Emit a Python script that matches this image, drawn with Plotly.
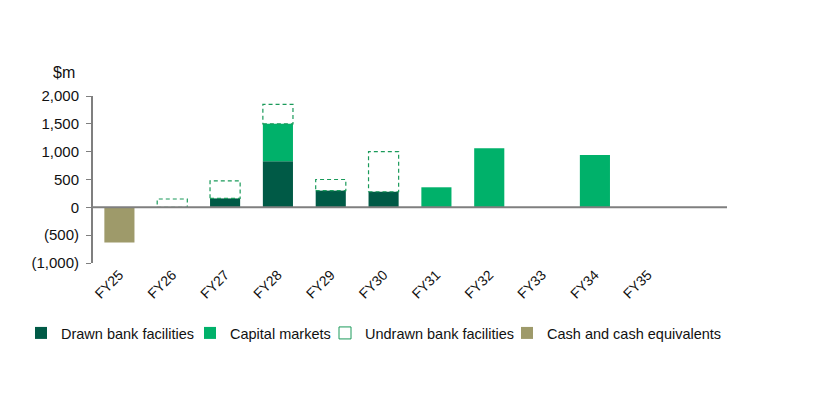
import plotly.graph_objects as go

# Debt maturity profile, $m
years = ["FY25", "FY26", "FY27", "FY28", "FY29", "FY30",
         "FY31", "FY32", "FY33", "FY34", "FY35"]
drawn = [0, 0, 160, 830, 300, 280, 0, 0, 0, 0, 0]
capital = [0, 0, 0, 670, 0, 0, 360, 1060, 0, 940, 0]
undrawn = [0, 150, 315, 350, 200, 720, 0, 0, 0, 0, 0]
cash = [-630, 0, 0, 0, 0, 0, 0, 0, 0, 0, 0]

DARK = "#005a46"
MID = "#00b16a"
DASH = "#1a9a5a"
OLIVE = "#9e9a6a"
BAR_W = 0.57

fig = go.Figure()

fig.add_trace(go.Bar(x=years, y=drawn, name="Drawn bank facilities",
                     marker=dict(color=DARK, line=dict(width=0)), width=BAR_W,
                     legend="legend"))
fig.add_trace(go.Bar(x=years, y=capital, name="Capital markets",
                     marker=dict(color=MID, line=dict(width=0)), width=BAR_W,
                     legend="legend2"))
fig.add_trace(go.Bar(x=years, y=undrawn, name="Undrawn bank facilities",
                     marker=dict(color="rgba(255,255,255,0)", line=dict(width=0)),
                     width=BAR_W, showlegend=False))
# legend-only entry for the dashed outline series
fig.add_trace(go.Bar(x=[years[0]], y=[None], name="Undrawn bank facilities",
                     marker=dict(color="white", line=dict(color=DASH, width=1)),
                     width=BAR_W, legend="legend3"))
fig.add_trace(go.Bar(x=years, y=cash, name="Cash and cash equivalents",
                     marker=dict(color=OLIVE, line=dict(width=0)), width=BAR_W,
                     legend="legend4"))

# dashed outlines for undrawn facilities, sitting on top of drawn + capital
for i, u in enumerate(undrawn):
    if u <= 0:
        continue
    base = drawn[i] + capital[i]
    fig.add_shape(type="rect", xref="x", yref="y",
                  x0=i - BAR_W / 2, x1=i + BAR_W / 2, y0=base, y1=base + u,
                  line=dict(color=DASH, width=1.2, dash="4px,3px"),
                  fillcolor="rgba(0,0,0,0)", layer="above")

# zero line across the plot
fig.add_shape(type="line", xref="paper", yref="y", x0=0, x1=1, y0=0, y1=0,
              line=dict(color="#7f7f7f", width=2), layer="above")

fig.add_annotation(text="$m", xref="paper", yref="paper", x=-0.025, y=1.075,
                   xanchor="right", yanchor="bottom", showarrow=False,
                   font=dict(size=16, color="#111"))

# four single-entry legends laid out in one row under the chart
legend_font = dict(family="Liberation Sans, Arial", size=14.5, color="#111")
legend_lefts = [13, 182, 317, 499]
legends = {}
for k, left in enumerate(legend_lefts):
    name = "legend" if k == 0 else f"legend{k + 1}"
    legends[name] = dict(orientation="h", xref="container", yref="container",
                         x=left / 838, xanchor="left", y=1 - 325 / 405,
                         yanchor="middle", font=legend_font, itemwidth=30,
                         bgcolor="rgba(0,0,0,0)")

fig.update_layout(
    width=838, height=405,
    barmode="relative",
    plot_bgcolor="white", paper_bgcolor="white",
    margin=dict(l=85, r=119, t=88, b=150),
    font=dict(family="Liberation Sans, Arial, sans-serif", size=15, color="#111"),
    showlegend=True,
    xaxis=dict(type="category", range=[-0.5, 11.5], tickangle=-45,
               showline=False, showgrid=False, ticks="", zeroline=False,
               tickfont=dict(size=14)),
    yaxis=dict(range=[-1000, 2000], tickvals=[-1000, -500, 0, 500, 1000, 1500, 2000],
               ticktext=["(1,000)", "(500)", "0", "500", "1,000", "1,500", "2,000"],
               showline=True, linecolor="#7f7f7f", linewidth=2,
               ticks="outside", ticklen=5, tickcolor="#7f7f7f",
               ticklabelstandoff=4,
               showgrid=False, zeroline=False, tickfont=dict(size=15)),
    **legends,
)

fig.write_html("out.html")
